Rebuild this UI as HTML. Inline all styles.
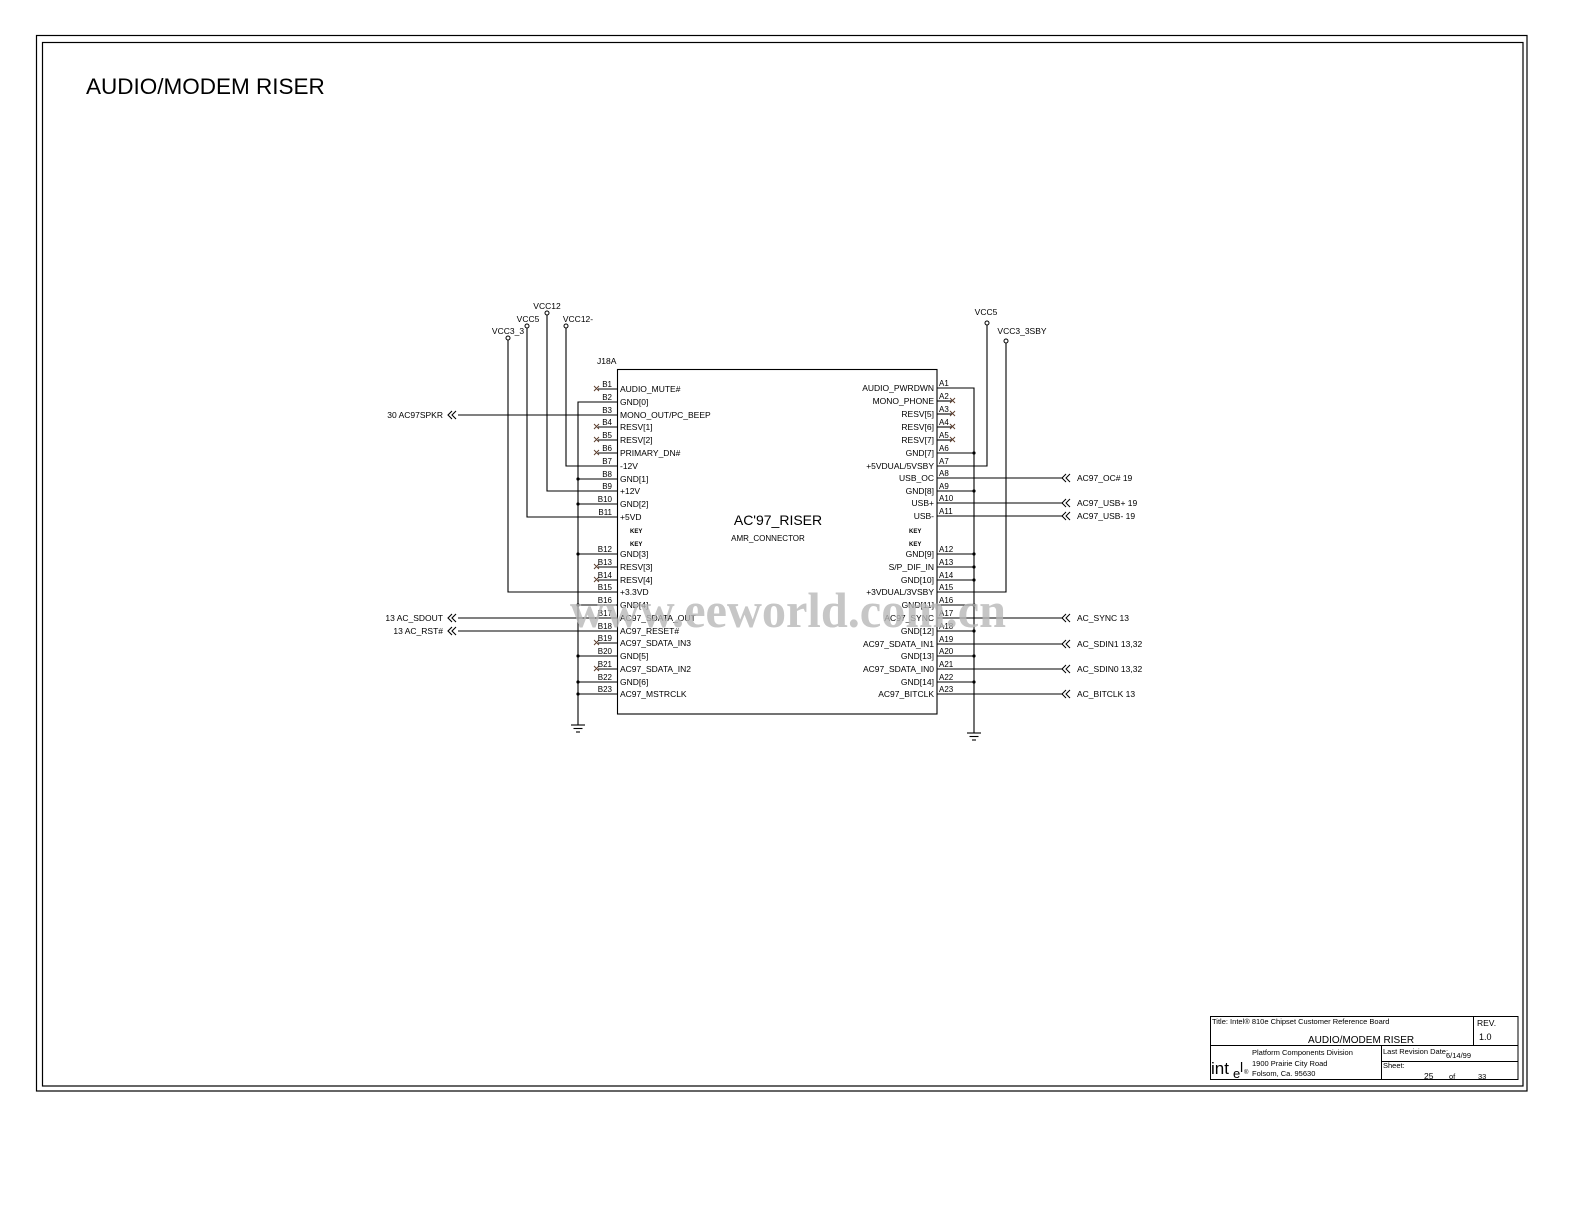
<!DOCTYPE html>
<html><head><meta charset="utf-8">
<style>
html,body{margin:0;padding:0;background:#fff;}
svg{display:block;}
text{font-family:"Liberation Sans",sans-serif;fill:#000;}
.p{font-size:8.5px;fill:#1a2a4a;}
.n{font-size:8px;}
.s{font-size:8.5px;}
.k{font-size:6px;font-weight:bold;}
</style></head><body>
<svg width="1584" height="1223" viewBox="0 0 1584 1223" xmlns="http://www.w3.org/2000/svg">
<rect x="0" y="0" width="1584" height="1223" fill="#fff"/>
<rect x="36.5" y="35.5" width="1490.5" height="1055.5" fill="none" stroke="#000" stroke-width="1.2"/>
<rect x="42.5" y="42.5" width="1480.5" height="1043.5" fill="none" stroke="#000" stroke-width="1.2"/>
<text x="86" y="94" style="font-size:22.5px">AUDIO/MODEM RISER</text>

<g stroke="#000" stroke-width="1.1" fill="none">
<rect x="617.5" y="369.5" width="319.5" height="344.5"/>
<polyline points="617,402 578,402 578,725"/>
<line x1="571" y1="725" x2="585" y2="725"/><line x1="573.5" y1="728.5" x2="582.5" y2="728.5"/><line x1="576" y1="732" x2="580" y2="732"/>
<line x1="578" y1="479" x2="617" y2="479"/>
<line x1="578" y1="504" x2="617" y2="504"/>
<line x1="578" y1="554" x2="617" y2="554"/>
<line x1="578" y1="605" x2="617" y2="605"/>
<line x1="578" y1="656" x2="617" y2="656"/>
<line x1="578" y1="682" x2="617" y2="682"/>
<line x1="578" y1="694" x2="617" y2="694"/>
<polyline points="508,340 508,592 617,592"/>
<polyline points="527,328 527,517 617,517"/>
<polyline points="547,315 547,491 617,491"/>
<polyline points="566,328 566,466 617,466"/>
<line x1="458" y1="415" x2="617" y2="415"/>
<line x1="458" y1="618" x2="617" y2="618"/>
<line x1="458" y1="631" x2="617" y2="631"/>
<line x1="598" y1="389" x2="617" y2="389"/>
<line x1="598" y1="427" x2="617" y2="427"/>
<line x1="598" y1="440" x2="617" y2="440"/>
<line x1="598" y1="453" x2="617" y2="453"/>
<line x1="598" y1="567" x2="617" y2="567"/>
<line x1="598" y1="580" x2="617" y2="580"/>
<line x1="598" y1="643" x2="617" y2="643"/>
<line x1="598" y1="669" x2="617" y2="669"/>
<polyline points="452,411 448,415 452,419"/><polyline points="456,411 452,415 456,419"/>
<polyline points="452,614 448,618 452,622"/><polyline points="456,614 452,618 456,622"/>
<polyline points="452,627 448,631 452,635"/><polyline points="456,627 452,631 456,635"/>

<polyline points="937,388 974,388 974,733"/>
<line x1="967" y1="733" x2="981" y2="733"/><line x1="969.5" y1="736.5" x2="978.5" y2="736.5"/><line x1="972" y1="740" x2="976" y2="740"/>
<line x1="937" y1="453" x2="974" y2="453"/>
<line x1="937" y1="491" x2="974" y2="491"/>
<line x1="937" y1="554" x2="974" y2="554"/>
<line x1="937" y1="567" x2="974" y2="567"/>
<line x1="937" y1="580" x2="974" y2="580"/>
<line x1="937" y1="605" x2="974" y2="605"/>
<line x1="937" y1="631" x2="974" y2="631"/>
<line x1="937" y1="656" x2="974" y2="656"/>
<line x1="937" y1="682" x2="974" y2="682"/>
<polyline points="937,466 987,466 987,325"/>
<polyline points="937,592 1006,592 1006,343"/>
<line x1="937" y1="401" x2="952" y2="401"/>
<line x1="937" y1="414" x2="952" y2="414"/>
<line x1="937" y1="427" x2="952" y2="427"/>
<line x1="937" y1="440" x2="952" y2="440"/>
<line x1="937" y1="478" x2="1063" y2="478"/>
<line x1="937" y1="503" x2="1063" y2="503"/>
<line x1="937" y1="516" x2="1063" y2="516"/>
<line x1="937" y1="618" x2="1063" y2="618"/>
<line x1="937" y1="644" x2="1063" y2="644"/>
<line x1="937" y1="669" x2="1063" y2="669"/>
<line x1="937" y1="694" x2="1063" y2="694"/>
</g>
<g stroke="#000" stroke-width="1" fill="none">
<polyline points="1066,474 1062,478 1066,482"/><polyline points="1070,474 1066,478 1070,482"/>
<polyline points="1066,499 1062,503 1066,507"/><polyline points="1070,499 1066,503 1070,507"/>
<polyline points="1066,512 1062,516 1066,520"/><polyline points="1070,512 1066,516 1070,520"/>
<polyline points="1066,614 1062,618 1066,622"/><polyline points="1070,614 1066,618 1070,622"/>
<polyline points="1066,640 1062,644 1066,648"/><polyline points="1070,640 1066,644 1070,648"/>
<polyline points="1066,665 1062,669 1066,673"/><polyline points="1070,665 1066,669 1070,673"/>
<polyline points="1066,690 1062,694 1066,698"/><polyline points="1070,690 1066,694 1070,698"/>
</g>
<g stroke="#5a3a2a" stroke-width="0.9">
<path d="M594,386l5,5M599,386l-5,5"/>
<path d="M594,424l5,5M599,424l-5,5"/>
<path d="M594,437l5,5M599,437l-5,5"/>
<path d="M594,450l5,5M599,450l-5,5"/>
<path d="M594,564l5,5M599,564l-5,5"/>
<path d="M594,577l5,5M599,577l-5,5"/>
<path d="M594,640l5,5M599,640l-5,5"/>
<path d="M594,666l5,5M599,666l-5,5"/>
<path d="M950,398l5,5M955,398l-5,5"/>
<path d="M950,411l5,5M955,411l-5,5"/>
<path d="M950,424l5,5M955,424l-5,5"/>
<path d="M950,437l5,5M955,437l-5,5"/>
</g>
<g fill="#000">
<circle cx="578" cy="479" r="1.6"/><circle cx="578" cy="504" r="1.6"/><circle cx="578" cy="554" r="1.6"/>
<circle cx="578" cy="605" r="1.6"/><circle cx="578" cy="656" r="1.6"/><circle cx="578" cy="682" r="1.6"/><circle cx="578" cy="694" r="1.6"/>
<circle cx="974" cy="453" r="1.6"/><circle cx="974" cy="491" r="1.6"/><circle cx="974" cy="554" r="1.6"/><circle cx="974" cy="567" r="1.6"/>
<circle cx="974" cy="580" r="1.6"/><circle cx="974" cy="605" r="1.6"/><circle cx="974" cy="631" r="1.6"/><circle cx="974" cy="656" r="1.6"/><circle cx="974" cy="682" r="1.6"/>
</g>
<g fill="#fff" stroke="#000" stroke-width="1">
<circle cx="508" cy="338" r="2"/><circle cx="527" cy="326" r="2"/><circle cx="547" cy="313" r="2"/><circle cx="566" cy="326" r="2"/>
<circle cx="987" cy="323" r="2"/><circle cx="1006" cy="341" r="2"/>
</g>
<g class="s" text-anchor="middle">
<text x="508" y="334">VCC3_3</text><text x="528" y="322">VCC5</text><text x="547" y="309">VCC12</text><text x="578" y="322">VCC12-</text>
<text x="986" y="315">VCC5</text><text x="1022" y="334">VCC3_3SBY</text>
</g>
<text x="597" y="364" class="s">J18A</text>
<text x="778" y="525" text-anchor="middle" style="font-size:14px">AC'97_RISER</text>
<text x="768" y="541" text-anchor="middle" style="font-size:8px">AMR_CONNECTOR</text>

<g class="s" text-anchor="end">
<text x="443" y="418">30  AC97SPKR</text>
<text x="443" y="621">13  AC_SDOUT</text>
<text x="443" y="634">13  AC_RST#</text>
</g>
<g class="s">
<text x="1077" y="481">AC97_OC#  19</text>
<text x="1077" y="506">AC97_USB+  19</text>
<text x="1077" y="519">AC97_USB-  19</text>
<text x="1077" y="621">AC_SYNC  13</text>
<text x="1077" y="647">AC_SDIN1  13,32</text>
<text x="1077" y="672">AC_SDIN0  13,32</text>
<text x="1077" y="697">AC_BITCLK  13</text>
</g>

<g class="n" text-anchor="end">
<text x="612" y="387">B1</text><text x="612" y="400">B2</text><text x="612" y="413">B3</text><text x="612" y="425">B4</text>
<text x="612" y="438">B5</text><text x="612" y="451">B6</text><text x="612" y="464">B7</text><text x="612" y="477">B8</text>
<text x="612" y="489">B9</text><text x="612" y="502">B10</text><text x="612" y="515">B11</text><text x="612" y="552">B12</text>
<text x="612" y="565">B13</text><text x="612" y="578">B14</text><text x="612" y="590">B15</text><text x="612" y="603">B16</text>
<text x="612" y="616">B17</text><text x="612" y="629">B18</text><text x="612" y="641">B19</text><text x="612" y="654">B20</text>
<text x="612" y="667">B21</text><text x="612" y="680">B22</text><text x="612" y="692">B23</text>
</g>
<g class="p">
<text x="620" y="392">AUDIO_MUTE#</text><text x="620" y="405">GND[0]</text><text x="620" y="418">MONO_OUT/PC_BEEP</text>
<text x="620" y="430">RESV[1]</text><text x="620" y="443">RESV[2]</text><text x="620" y="456">PRIMARY_DN#</text>
<text x="620" y="469">-12V</text><text x="620" y="482">GND[1]</text><text x="620" y="494">+12V</text>
<text x="620" y="507">GND[2]</text><text x="620" y="520">+5VD</text>
<text x="620" y="557">GND[3]</text><text x="620" y="570">RESV[3]</text><text x="620" y="583">RESV[4]</text>
<text x="620" y="595">+3.3VD</text><text x="620" y="608">GND[4]</text><text x="620" y="621">AC97_SDATA_OUT</text>
<text x="620" y="634">AC97_RESET#</text><text x="620" y="646">AC97_SDATA_IN3</text><text x="620" y="659">GND[5]</text>
<text x="620" y="672">AC97_SDATA_IN2</text><text x="620" y="685">GND[6]</text><text x="620" y="697">AC97_MSTRCLK</text>
</g>
<g class="k"><text x="630" y="533">KEY</text><text x="630" y="546">KEY</text><text x="909" y="533">KEY</text><text x="909" y="546">KEY</text></g>
<g class="n">
<text x="939" y="386">A1</text><text x="939" y="399">A2</text><text x="939" y="412">A3</text><text x="939" y="425">A4</text>
<text x="939" y="438">A5</text><text x="939" y="451">A6</text><text x="939" y="464">A7</text><text x="939" y="476">A8</text>
<text x="939" y="489">A9</text><text x="939" y="501">A10</text><text x="939" y="514">A11</text><text x="939" y="552">A12</text>
<text x="939" y="565">A13</text><text x="939" y="578">A14</text><text x="939" y="590">A15</text><text x="939" y="603">A16</text>
<text x="939" y="616">A17</text><text x="939" y="629">A18</text><text x="939" y="642">A19</text><text x="939" y="654">A20</text>
<text x="939" y="667">A21</text><text x="939" y="680">A22</text><text x="939" y="692">A23</text>
</g>
<g class="p" text-anchor="end">
<text x="934" y="391">AUDIO_PWRDWN</text><text x="934" y="404">MONO_PHONE</text><text x="934" y="417">RESV[5]</text>
<text x="934" y="430">RESV[6]</text><text x="934" y="443">RESV[7]</text><text x="934" y="456">GND[7]</text>
<text x="934" y="469">+5VDUAL/5VSBY</text><text x="934" y="481">USB_OC</text><text x="934" y="494">GND[8]</text>
<text x="934" y="506">USB+</text><text x="934" y="519">USB-</text>
<text x="934" y="557">GND[9]</text><text x="934" y="570">S/P_DIF_IN</text><text x="934" y="583">GND[10]</text>
<text x="934" y="595">+3VDUAL/3VSBY</text><text x="934" y="608">GND[11]</text><text x="934" y="621">AC97_SYNC</text>
<text x="934" y="634">GND[12]</text><text x="934" y="647">AC97_SDATA_IN1</text><text x="934" y="659">GND[13]</text>
<text x="934" y="672">AC97_SDATA_IN0</text><text x="934" y="685">GND[14]</text><text x="934" y="697">AC97_BITCLK</text>
</g>

<text x="570" y="627" textLength="436" lengthAdjust="spacingAndGlyphs" style="font-family:'Liberation Serif',serif;font-weight:bold;font-size:50px;fill:#b8b8b8;opacity:0.8">www.eeworld.com.cn</text>

<g stroke="#000" stroke-width="1" fill="none">
<rect x="1210.5" y="1016.5" width="307.5" height="63"/>
<line x1="1473.5" y1="1016" x2="1473.5" y2="1045"/>
<line x1="1210" y1="1045.5" x2="1518" y2="1045.5"/>
<line x1="1381.5" y1="1045" x2="1381.5" y2="1080"/>
<line x1="1381" y1="1061.5" x2="1518" y2="1061.5"/>
</g>
<g style="font-size:7.5px">
<text x="1212" y="1024">Title:  Intel® 810e Chipset Customer Reference Board</text>
<text x="1477" y="1026" style="font-size:8.5px">REV.</text>
<text x="1479" y="1040" style="font-size:9px">1.0</text>
<text x="1308" y="1043" style="font-size:10px">AUDIO/MODEM RISER</text>
<text x="1252" y="1055">Platform Components Division</text>
<text x="1252" y="1066">1900 Prairie City Road</text>
<text x="1252" y="1076">Folsom, Ca. 95630</text>
<text x="1383" y="1054">Last Revision Date:</text>
<text x="1446" y="1058">6/14/99</text>
<text x="1383" y="1068">Sheet:</text>
<text x="1424" y="1079" style="font-size:8.5px">25</text>
<text x="1449" y="1079">of</text>
<text x="1478" y="1079">33</text>
</g>
<text x="1211" y="1074" style="font-size:17px">int</text>
<text x="1233" y="1078" style="font-size:13px">e</text>
<text x="1240" y="1072" style="font-size:14px">l</text>
<text x="1244" y="1074" style="font-size:6px">®</text>
</svg>
</body></html>
